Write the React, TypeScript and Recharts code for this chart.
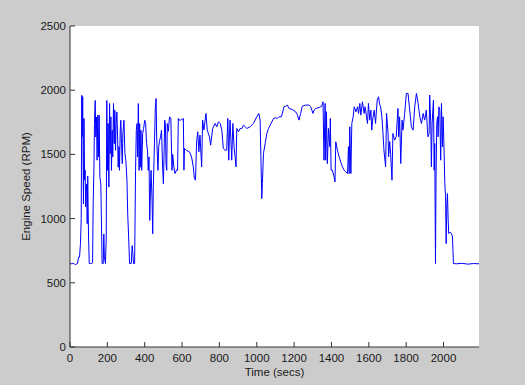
import { LineChart, Line, XAxis, YAxis } from 'recharts';

// [time (s), engine speed (rpm)]
const engineTrace: [number, number][] = [
  [0, 650], [10, 648], [20, 652], [28, 640], [33, 645], [40, 650], [46, 700], [51, 700], [56, 805], [60, 1000],
  [63, 1960], [66, 1640], [68, 1950], [72, 1115], [75, 1780], [78, 1300], [81, 1376], [84, 1090], [87, 1220], [90, 1270],
  [92, 960], [95, 1330], [99, 880], [103, 650], [110, 650], [117, 650], [121, 660], [124, 1115], [128, 1376], [131, 1740],
  [135, 1920], [138, 1636], [142, 1790], [145, 1455], [149, 1805], [153, 1480], [156, 1805], [160, 1325], [165, 1270], [172, 650],
  [178, 650], [181, 880], [184, 700], [190, 650], [194, 856], [197, 1920], [201, 1376], [204, 1740], [208, 1246], [212, 1896],
  [215, 1506], [219, 1792], [222, 1376], [226, 1688], [229, 1480], [233, 1896], [237, 1584], [240, 1844], [244, 1532], [247, 1740],
  [251, 1830], [255, 1636], [258, 1400], [262, 1560], [265, 1376], [269, 1690], [272, 1766], [276, 1584], [280, 1428], [283, 1662],
  [289, 1766], [294, 1506], [299, 1454], [305, 1298], [309, 1038], [314, 856], [319, 650], [328, 650], [333, 790], [337, 720],
  [340, 650], [346, 650], [351, 1376], [355, 1688], [359, 1740], [362, 1480], [366, 1896], [370, 1376], [373, 1740], [376, 1400],
  [380, 1688], [384, 1376], [389, 1662], [394, 1700], [400, 1766], [405, 1740], [410, 1584], [415, 1532], [419, 1376], [423, 1480],
  [427, 986], [431, 1246], [434, 1376], [439, 1160], [443, 882], [446, 1246], [450, 1454], [453, 1636], [457, 1870], [461, 1935],
  [464, 1636], [468, 1480], [471, 1376], [475, 1560], [480, 1610], [485, 1636], [490, 1688], [496, 1402], [500, 1272], [504, 1530],
  [507, 1766], [511, 1730], [514, 1428], [518, 1376], [521, 1740], [527, 1680], [531, 1766], [534, 1792], [540, 1780], [546, 1376],
  [550, 1500], [556, 1403], [562, 1351], [571, 1380], [576, 1376], [580, 1780], [585, 1767], [592, 1767], [598, 1775], [604, 1767],
  [607, 1780], [610, 1377], [613, 1546], [625, 1530], [640, 1520], [651, 1480], [660, 1403], [666, 1312], [672, 1299], [678, 1598],
  [684, 1676], [690, 1520], [696, 1650], [705, 1403], [710, 1767], [717, 1690], [728, 1819], [735, 1689], [746, 1640], [753, 1572],
  [764, 1702], [777, 1741], [786, 1715], [795, 1754], [804, 1741], [813, 1689], [821, 1546], [830, 1533], [839, 1533], [845, 1780],
  [850, 1455], [854, 1660], [857, 1767], [864, 1533], [866, 1455], [872, 1741], [879, 1546], [884, 1480], [889, 1403], [893, 1702],
  [902, 1676], [911, 1702], [920, 1700], [929, 1728], [947, 1702], [965, 1715], [982, 1741], [1000, 1793], [1011, 1819], [1018, 1767],
  [1022, 1481], [1027, 1156], [1030, 1273], [1036, 1507], [1045, 1585], [1054, 1663], [1063, 1702], [1072, 1728], [1090, 1780], [1100, 1785],
  [1110, 1780], [1119, 1793], [1132, 1793], [1146, 1871], [1155, 1875], [1164, 1884], [1173, 1858], [1190, 1850], [1208, 1832], [1217, 1810],
  [1226, 1767], [1235, 1819], [1244, 1876], [1262, 1884], [1280, 1884], [1289, 1871], [1301, 1819], [1307, 1845], [1316, 1858], [1334, 1865],
  [1348, 1876], [1355, 1910], [1360, 1455], [1366, 1897], [1369, 1455], [1373, 1832], [1378, 1428], [1384, 1702], [1391, 1560], [1394, 1780],
  [1398, 1377], [1405, 1377], [1414, 1325], [1419, 1286], [1423, 1598], [1432, 1533], [1441, 1481], [1450, 1440], [1459, 1403], [1468, 1377],
  [1477, 1364], [1486, 1351], [1491, 1560], [1495, 1351], [1498, 1715], [1504, 1351], [1509, 1741], [1516, 1793], [1522, 1871], [1531, 1832],
  [1540, 1871], [1545, 1819], [1552, 1897], [1557, 1806], [1566, 1910], [1575, 1819], [1580, 1871], [1588, 1793], [1593, 1741], [1598, 1897],
  [1605, 1767], [1611, 1845], [1616, 1689], [1620, 1767], [1629, 1845], [1636, 1741], [1641, 1845], [1645, 1923], [1652, 1949], [1658, 1890],
  [1663, 1870], [1670, 1793], [1676, 1663], [1681, 1533], [1690, 1403], [1695, 1819], [1703, 1663], [1706, 1481], [1712, 1600], [1717, 1500],
  [1724, 1299], [1729, 1663], [1738, 1611], [1747, 1640], [1756, 1858], [1760, 1637], [1765, 1793], [1771, 1429], [1778, 1767], [1783, 1689],
  [1792, 1819], [1801, 1975], [1810, 1975], [1819, 1845], [1828, 1715], [1837, 1689], [1846, 1871], [1855, 1975], [1864, 1897], [1873, 1793],
  [1882, 1741], [1891, 1819], [1899, 1767], [1908, 1845], [1914, 1689], [1917, 1637], [1923, 1663], [1926, 1962], [1932, 1728], [1935, 1403],
  [1939, 1741], [1946, 1923], [1950, 1377], [1953, 1585], [1957, 650], [1960, 1325], [1964, 1741], [1968, 1793], [1971, 1637], [1975, 1871],
  [1980, 1845], [1985, 1455], [1989, 1897], [1994, 1559], [1998, 1793], [2003, 1533], [2007, 1273], [2011, 1170], [2014, 805], [2018, 1117],
  [2021, 1195], [2025, 987], [2028, 883], [2035, 895], [2043, 883], [2048, 857], [2053, 650], [2070, 648], [2100, 652], [2130, 645],
  [2160, 650], [2190, 648],
];

const xTicks = [0, 200, 400, 600, 800, 1000, 1200, 1400, 1600, 1800, 2000];
const yTicks = [0, 500, 1000, 1500, 2000, 2500];
const xDomain: [number, number] = [0, 2190];
const yDomain: [number, number] = [0, 2500];

const xLabel = 'Time (secs)';
const yLabel = 'Engine Speed (RPM)';

const font = '"Liberation Sans", Arial, Helvetica, sans-serif';
const axisColor = '#333333';
const textColor = '#1a1a1a';
const tickFont = { fill: textColor, fontSize: 11.5, fontFamily: font };

const data = engineTrace.map(([t, rpm]) => ({ t, rpm }));

export default function App() {
  return (
    <div
      style={{
        position: 'fixed',
        left: 0,
        top: 0,
        width: 525,
        height: 385,
        background: '#cccccc',
      }}
    >
      <LineChart
        width={525}
        height={385}
        data={data}
        margin={{ top: 26, right: 46, left: 0, bottom: 0 }}
        style={{ background: 'transparent' }}
      >
        <rect x={70} y={26} width={409} height={321} fill="#ffffff" />
        <XAxis
          xAxisId="bottom"
          dataKey="t"
          type="number"
          domain={xDomain}
          ticks={xTicks}
          interval={0}
          allowDataOverflow
          height={38}
          stroke={axisColor}
          tickSize={-5}
          tickMargin={12}
          tick={tickFont}
          label={{
            content: (props: any) => {
              const vb = props.viewBox;
              return (
                <text
                  x={vb.x + vb.width / 2}
                  y={376}
                  textAnchor="middle"
                  fill={textColor}
                  fontSize={11.5}
                  fontFamily={font}
                >
                  {xLabel}
                </text>
              );
            },
          }}
        />
        <XAxis
          xAxisId="top"
          orientation="top"
          dataKey="t"
          type="number"
          domain={xDomain}
          ticks={xTicks}
          interval={0}
          allowDataOverflow
          height={0}
          stroke={axisColor}
          tickSize={-5}
          tickFormatter={() => ''}
        />
        <YAxis
          yAxisId="left"
          type="number"
          domain={yDomain}
          ticks={yTicks}
          interval={0}
          allowDataOverflow
          width={70}
          stroke={axisColor}
          tickSize={-5}
          tickMargin={9}
          tick={tickFont}
          label={{
            content: (props: any) => {
              const vb = props.viewBox;
              const cx = 26;
              const cy = vb.y + vb.height / 2;
              return (
                <text
                  x={cx}
                  y={cy}
                  transform={`rotate(-90 ${cx} ${cy})`}
                  textAnchor="middle"
                  dominantBaseline="central"
                  fill={textColor}
                  fontSize={11.5}
                  fontFamily={font}
                >
                  {yLabel}
                </text>
              );
            },
          }}
        />
        <YAxis
          yAxisId="right"
          orientation="right"
          type="number"
          domain={yDomain}
          ticks={yTicks}
          interval={0}
          allowDataOverflow
          width={0}
          stroke={axisColor}
          tickSize={-5}
          tickFormatter={() => ''}
        />
        <Line
          xAxisId="top"
          yAxisId="right"
          type="linear"
          dataKey="rpm"
          stroke="none"
          dot={false}
          activeDot={false}
          isAnimationActive={false}
        />
        <Line
          xAxisId="bottom"
          yAxisId="left"
          type="linear"
          dataKey="rpm"
          stroke="#0000ff"
          strokeWidth={1}
          dot={false}
          activeDot={false}
          isAnimationActive={false}
        />
      </LineChart>
    </div>
  );
}
